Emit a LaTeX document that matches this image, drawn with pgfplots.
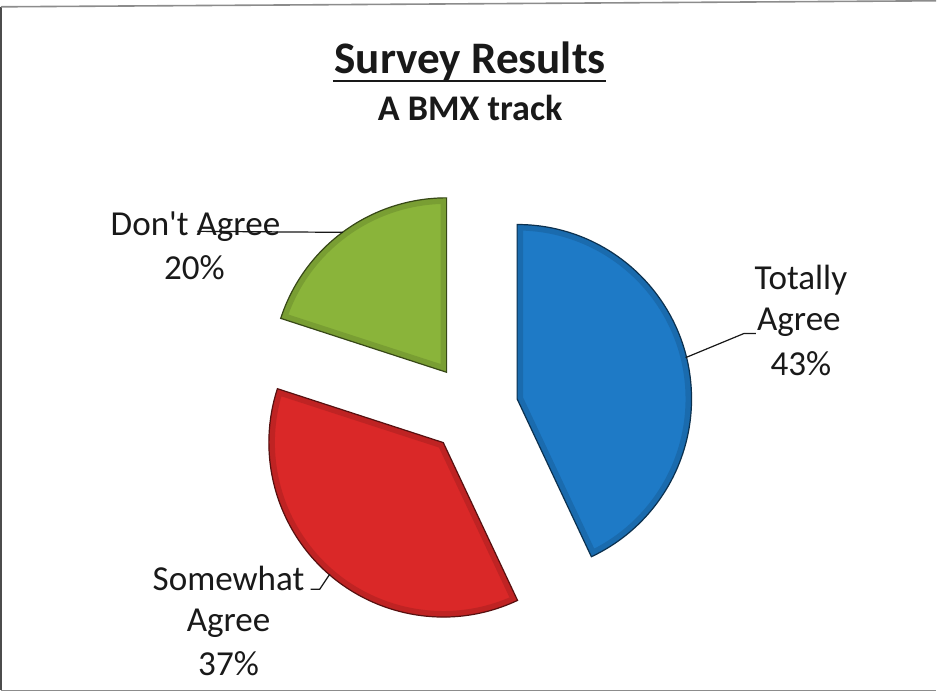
\documentclass[border=0pt]{standalone}
\usepackage{pgfplots}
\usepackage{pgfplotstable}
\pgfplotsset{compat=1.18}
\usepackage{fontspec}
\setmainfont{Carlito}
\newfontfamily\sq{Carlito}[Ligatures=TeXOff]
\definecolor{cTot}{RGB}{30,122,198}
\definecolor{cSom}{RGB}{218,40,40}
\definecolor{cDon}{RGB}{138,180,58}
\pgfplotstableread{
label value
Totally 43
Somewhat 37
Dont 20
}\piedata
\begin{document}%
\begin{tikzpicture}
\pgfplotstablegetelem{0}{value}\of\piedata \pgfmathsetmacro\va{\pgfplotsretval}
\pgfplotstablegetelem{1}{value}\of\piedata \pgfmathsetmacro\vb{\pgfplotsretval}
\pgfplotstablegetelem{2}{value}\of\piedata \pgfmathsetmacro\vc{\pgfplotsretval}
\pgfmathsetmacro\aA{90}
\pgfmathsetmacro\aB{\aA-3.6*\va}
\pgfmathsetmacro\aC{\aB-3.6*\vb}
\pgfmathsetmacro\aD{\aC-3.6*\vc}
\pgfmathsetmacro\mA{(\aA+\aB)/2}
\pgfmathsetmacro\mB{(\aB+\aC)/2}
\pgfmathsetmacro\mC{(\aC+\aD)/2}
\pgfmathsetmacro\xA{475+45*cos(\mA)}\pgfmathsetmacro\yA{284+45*sin(\mA)}
\pgfmathsetmacro\xB{475+45*cos(\mB)}\pgfmathsetmacro\yB{284+45*sin(\mB)}
\pgfmathsetmacro\xC{475+45*cos(\mC)}\pgfmathsetmacro\yC{284+45*sin(\mC)}
\def\wedgeA{(axis cs:\xA,\yA) -- +(\aA:87pt) arc[start angle=\aA, end angle=\aB, radius=87pt] -- cycle}
\def\wedgeB{(axis cs:\xB,\yB) -- +(\aB:87pt) arc[start angle=\aB, end angle=\aC, radius=87pt] -- cycle}
\def\wedgeC{(axis cs:\xC,\yC) -- +(\aC:87pt) arc[start angle=\aC, end angle=\aD, radius=87pt] -- cycle}
\begin{axis}[x=0.5pt,y=0.5pt,xmin=0,xmax=937,ymin=0,ymax=695,
  hide axis, clip=false, scale only axis]
% scanned frame (left, top, bottom)
\draw[black!70, line width=1pt] (axis cs:4,3) -- (axis cs:4,685);
\draw[black!45, line width=0.8pt] (axis cs:4,685) -- (axis cs:937,691);
\draw[black!45, line width=0.8pt] (axis cs:4,3) -- (axis cs:937,3);
% wedges with bevel-like rim
\begin{scope}\clip \wedgeA; \fill[cTot] \wedgeA;
  \draw[cTot!60!black, line width=6pt, opacity=0.3] \wedgeA; \end{scope}
\draw[cTot!40!black, line width=0.6pt] \wedgeA;
\begin{scope}\clip \wedgeB; \fill[cSom] \wedgeB;
  \draw[cSom!60!black, line width=6pt, opacity=0.3] \wedgeB; \end{scope}
\draw[cSom!40!black, line width=0.6pt] \wedgeB;
\begin{scope}\clip \wedgeC; \fill[cDon] \wedgeC;
  \draw[cDon!60!black, line width=6pt, opacity=0.3] \wedgeC; \end{scope}
\draw[cDon!40!black, line width=0.6pt] \wedgeC;
% titles
\node[anchor=base, font=\fontsize{22.5}{27}\selectfont\bfseries, text=black!90] at (axis cs:472,618) {Survey Results};
\draw[black!90, line width=1pt] (axis cs:335,611) -- (axis cs:608,611);
\node[anchor=base, font=\fontsize{18}{22}\selectfont\bfseries, text=black!90] at (axis cs:472,572) {A BMX track};
% labels
\begin{scope}[every node/.style={anchor=base, font=\fontsize{17.5}{21}\selectfont, text=black!90}]
\node at (axis cs:198,457) {Don{\sq'}t Agree};
\node at (axis cs:197,413) {20\%};
\node at (axis cs:802,403) {Totally};
\node at (axis cs:800,362) {Agree};
\node at (axis cs:802,317) {43\%};
\node at (axis cs:231,103) {Somewhat};
\node at (axis cs:231,62) {Agree};
\node at (axis cs:231,18) {37\%};
\end{scope}
% leader lines
\draw[black!90, line width=0.6pt] (axis cs:200,461) -- (axis cs:345,460);
\draw[black!90, line width=0.6pt] (axis cs:687,335) -- (axis cs:745,359) -- (axis cs:757,359);
\draw[black!90, line width=0.6pt] (axis cs:313,104) -- (axis cs:322,104) -- (axis cs:332,119);
\end{axis}
\end{tikzpicture}%
\end{document}
